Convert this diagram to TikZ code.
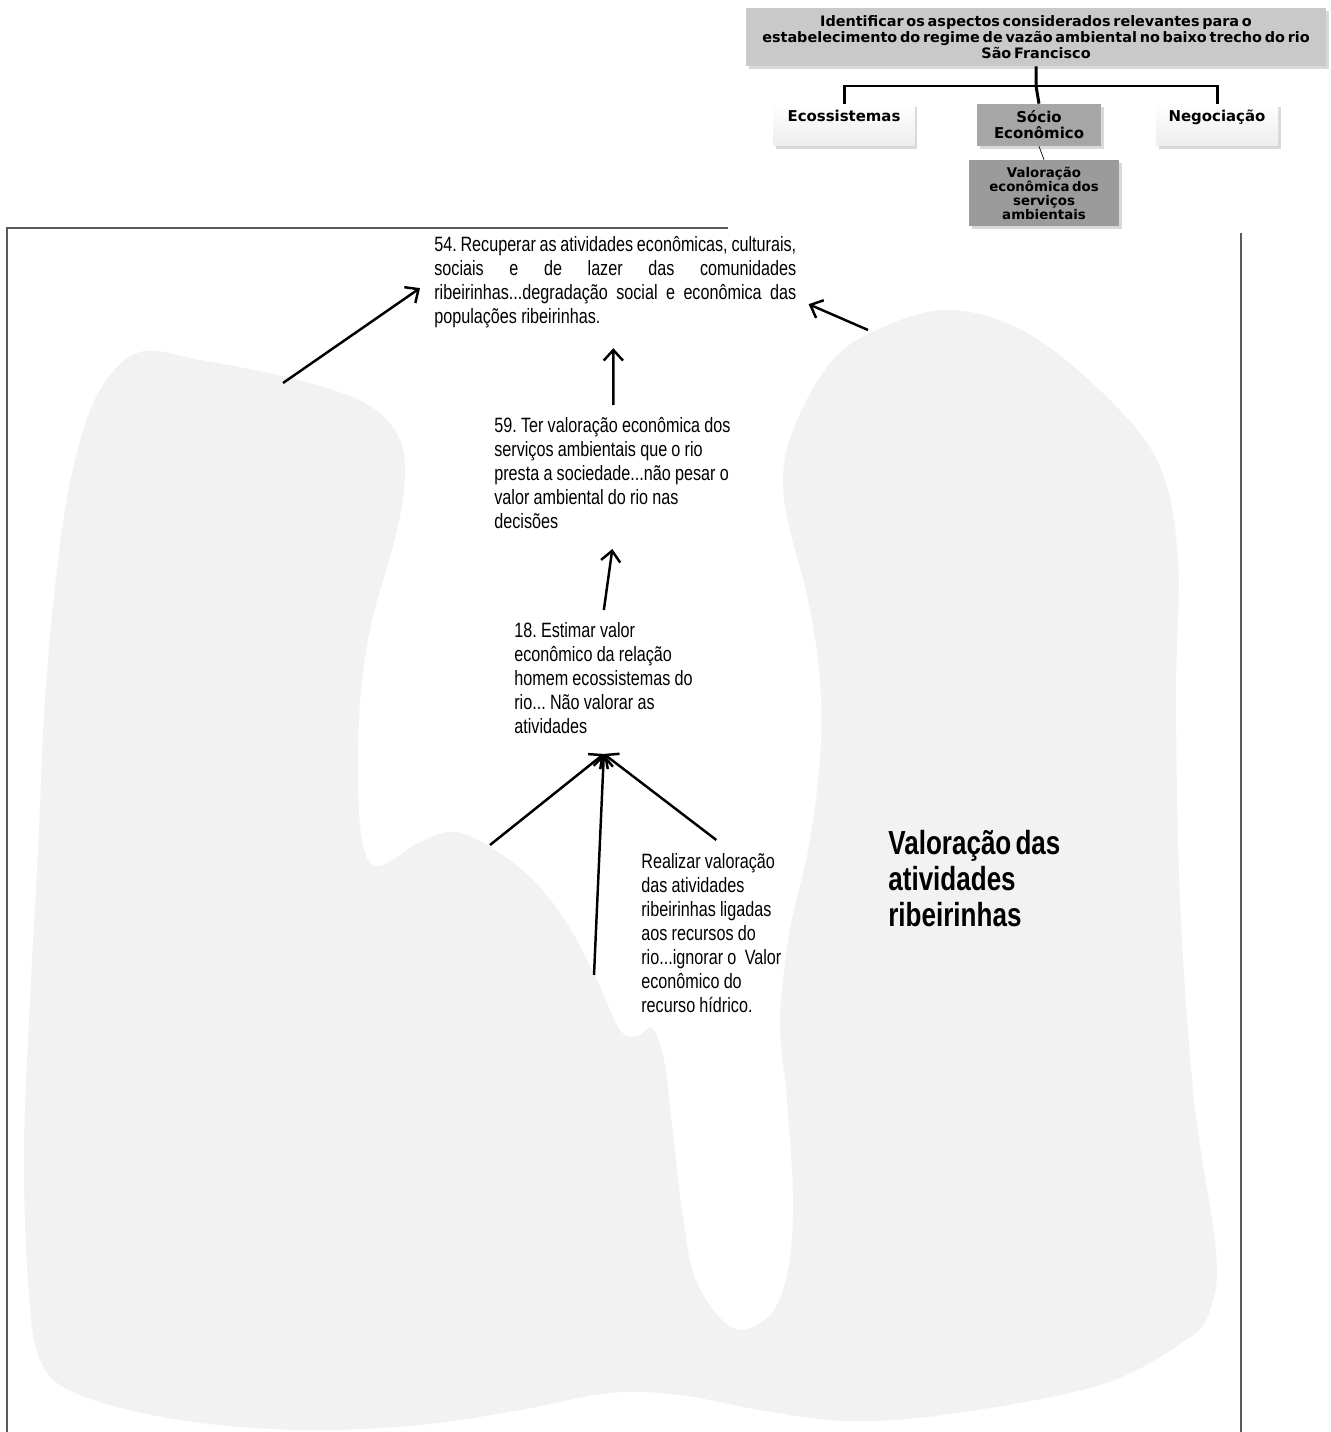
\documentclass[tikz,border=0pt]{standalone}
\usepackage{fontspec}
\setmainfont{Liberation Sans}
\newfontfamily\narrowfont[FakeStretch=0.78]{Liberation Sans}
\newfontfamily\boxfont[WordSpace=0.55]{DejaVu Sans}
\usetikzlibrary{arrows.meta, calc, shadows}
\definecolor{blobgray}{RGB}{242,242,242}
\definecolor{rootgray}{RGB}{201,201,201}
\definecolor{midgray}{RGB}{166,166,166}
\definecolor{darkbox}{RGB}{155,155,155}
\definecolor{framegray}{RGB}{90,90,90}
\newcommand{\objfont}{\narrowfont\fontsize{11.8}{13.66}\selectfont}
\newcommand{\objspace}{\spaceskip=2.4pt plus 7pt minus 1pt
  \xspaceskip=2.4pt plus 7pt minus 1pt\relax}
\newcommand{\jline}[2]{\makebox[#1][s]{#2}}
\tikzset{
  arr/.style={-{Straight Barb[length=6pt,width=11pt]}, line width=1.4pt},
  txt/.style={anchor=north west, inner sep=0pt, align=left, font=\objfont,
    execute at begin node=\objspace},
  hbox/.style={inner sep=0pt, align=center,
    font=\boxfont\bfseries\fontsize{8.5}{9.1}\selectfont,
    drop shadow={shadow xshift=1.5pt, shadow yshift=-1.5pt, opacity=0.3}},
  conn/.style={line width=1.7pt},
}

\begin{document}
\begin{tikzpicture}[x=0.02cm, y=-0.02cm]
\useasboundingbox (0,0) rectangle (1330,1432);

% background shapes
\fill[blobgray] plot[smooth cycle, tension=0.6] coordinates {
  (100,390) (140,352) (200,360) (290,378) (365,403) (400,440) (404,490)
  (392,550) (372,620) (361,690) (358,770) (362,840) (378,866) (420,842)
  (455,832) (495,850) (535,882) (568,925) (597,980) (620,1030) (638,1036)
  (652,1028) (664,1060) (673,1133) (683,1217) (697,1283) (733,1328)
  (770,1315) (788,1270) (793,1200) (787,1100) (780,1020) (790,930)
  (808,850) (820,760) (820,680) (808,600) (790,530) (783,480) (793,430)
  (827,367) (870,333) (947,310) (1027,333) (1110,400) (1160,467)
  (1178,560) (1176,700) (1180,900) (1194,1100) (1216,1250) (1210,1310)
  (1186,1340) (1100,1385) (950,1414) (847,1421) (760,1410) (680,1395)
  (610,1393) (520,1410) (420,1425) (300,1430) (180,1420) (80,1395)
  (40,1360) (28,1280) (24,1150) (30,1000) (38,850) (45,700) (58,560)
  (75,460)};

% frame
\draw[framegray, line width=1.1pt] (7,1432) -- (7,228) -- (728,228);
\draw[framegray, line width=1.1pt] (1241,233) -- (1241,1432);

% hierarchy
\node[hbox, fill=rootgray, minimum width=11.6cm, minimum height=1.16cm,
  font=\boxfont\bfseries\fontsize{8.2}{9.1}\selectfont] (root) at (1036,37)
  {Identificar os aspectos considerados relevantes para o\\
   estabelecimento do regime de vazão ambiental no baixo trecho do rio\\
   São Francisco};
\node[hbox, top color=white, bottom color=gray!14, minimum width=2.82cm,
  text height=9.7pt, text depth=14.2pt] (eco) at (844,125) {Ecossistemas};
\node[hbox, fill=midgray, minimum width=2.48cm, minimum height=0.84cm]
  (soc) at (1039,125) {Sócio\\Econômico};
\node[hbox, top color=white, bottom color=gray!14, minimum width=2.44cm,
  text height=9.7pt, text depth=14.2pt] (neg) at (1217,125) {Negociação};
\node[hbox, fill=darkbox, minimum width=3cm, minimum height=1.32cm,
  font=\boxfont\bfseries\fontsize{7.6}{8}\selectfont] (val) at (1044,193)
  {Valoração\\econômica dos\\serviços\\ambientais};
\coordinate (bar) at (1036,86);
\draw[conn] (root.south) -- (bar) -- (soc.north);
\draw[conn] (eco.north) |- (bar) -| (neg.north);
\draw[thin] (soc.south) -- (val.north);

% objectives
\node[txt, text width=7.24cm] (n54) at (434,236)
  {\jline{7.24cm}{54. Recuperar as atividades econômicas, culturais,}\\
   \jline{7.24cm}{sociais e de lazer das comunidades}\\
   \jline{7.24cm}{ribeirinhas...degradação social e econômica das}\\
   populações ribeirinhas.};
\node[txt, text width=4.76cm] (n59) at (494,417)
  {59. Ter valoração econômica dos\\ serviços ambientais que o rio\\
   presta a sociedade...não pesar o\\ valor ambiental do rio nas\\ decisões};
\node[txt, text width=3.7cm] (n18) at (514,622)
  {18. Estimar valor\\ econômico da relação\\ homem ecossistemas do\\
   rio... Não valorar as\\ atividades};
\node[txt, text width=3cm] (nreal) at (641,853)
  {Realizar valoração\\ das atividades\\ ribeirinhas ligadas\\
   aos recursos do\\ rio...ignorar o \ Valor\\ econômico do\\ recurso hídrico.};
\node[txt, font=\narrowfont\bfseries\fontsize{19}{20.5}\selectfont]
  (title) at (888,830) {Valoração das\\ atividades\\ ribeirinhas};

% arrows
\coordinate (b1) at (283,383);
\coordinate (b2) at (868,330);
\coordinate (b5) at (490,845);
\coordinate (b6) at (594,975);
\coordinate (hub) at ($(n18.south)+(-3,20)$);
\draw[arr] (b1) -- ($(n54.west)+(-14,6)$);
\draw[arr] (b2) -- ($(n54.south east)+(12,-24)$);
\draw[arr] ($(n59.north)+(0,-12)$) -- ($(n54.south)+(-2,20)$);
\draw[arr] ($(n18.north)+(-3,-12)$) -- ($(n59.south)+(-1,20)$);
\draw[arr] (b5) -- (hub);
\draw[arr] (b6) -- (hub);
\draw[arr] ($(nreal.north)+(0,-13)$) -- (hub);
\end{tikzpicture}
\end{document}
